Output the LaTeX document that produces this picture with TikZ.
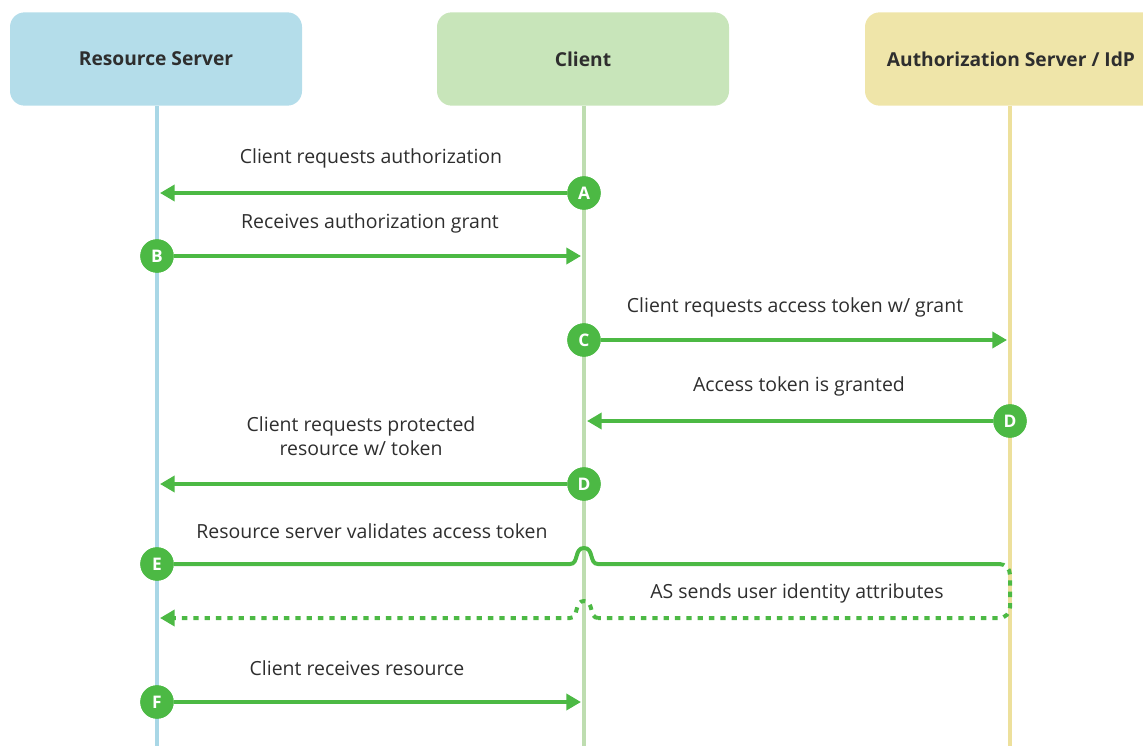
\documentclass[tikz,border=0pt]{standalone}
\usepackage{fontspec}
\setmainfont{Open Sans}
\usetikzlibrary{arrows.meta}
\definecolor{gr}{HTML}{4CB944}
\definecolor{bluebox}{HTML}{B4DDEA}
\definecolor{blueline}{HTML}{A9D7E6}
\definecolor{greenbox}{HTML}{C8E5BA}
\definecolor{greenline}{HTML}{BEDDB0}
\definecolor{yelbox}{HTML}{EFE5A9}
\definecolor{yelline}{HTML}{EDE09C}
\definecolor{txt}{HTML}{2E2E2E}
\tikzset{
  hdr/.style={rounded corners=11pt, minimum width=219pt, minimum height=70pt, inner sep=0pt, font=\fontsize{14.4}{17}\selectfont\bfseries, text=txt},
  life/.style={line width=3.6pt},
  msg/.style={draw=gr, line width=3pt, -{Triangle[length=11pt,width=12pt]}},
  plain/.style={draw=gr, line width=3pt},
  dots/.style={draw=gr, line width=3pt, dash pattern=on 4pt off 4.5pt},
  letter/.style={circle, fill=gr, minimum size=25pt, inner sep=0pt, text=white, font=\fontsize{13}{14}\selectfont\bfseries},
  lbl/.style={text=txt, font=\fontsize{14.6}{18}\selectfont, align=center}
}
\begin{document}
\begin{tikzpicture}[x=0.75pt,y=-0.75pt]
\useasboundingbox (0,0) rectangle (1143,746);
% header boxes
\node[hdr, fill=bluebox] (rs) at (156,59) {Resource Server};
\node[hdr, fill=greenbox] (cl) at (583,59) {Client};
\node[hdr, fill=yelbox] (as) at (1011,59) {Authorization Server / IdP};
% lifelines
\coordinate (rsend) at (157,746);
\coordinate (clend) at (584,746);
\coordinate (asend) at (1010,746);
\draw[life, blueline] (rs.south -| rsend) -- (rsend);
\draw[life, greenline] (cl.south -| clend) -- (clend);
\draw[life, yelline] (as.south -| asend) -- (asend);
% letter circles
\node[letter] (cA) at (584,193) {A};
\node[letter] (cB) at (157,256) {B};
\node[letter] (cC) at (584,340) {C};
\node[letter] (cD1) at (1010,421) {D};
\node[letter] (cD2) at (584,484) {D};
\node[letter] (cE) at (157,564) {E};
\node[letter] (cF) at (157,702) {F};
% arrow targets
\coordinate (tA) at (160,193);
\coordinate (tB) at (581,256);
\coordinate (tC) at (1007,340);
\coordinate (tD1) at (587,421);
\coordinate (tD2) at (160,484);
\coordinate (tE) at (999,564);
\coordinate (tEc) at (1010,564);
\coordinate (tEd) at (1010,618);
\coordinate (tG) at (160,618);
\coordinate (tF) at (581,702);
% messages
\draw[msg] (cA) -- (tA);
\draw[msg] (cB) -- (tB);
\draw[msg] (cC) -- (tC);
\draw[msg] (cD1) -- (tD1);
\draw[msg] (cD2) -- (tD2);
\draw[msg] (cF) -- (tF);
\draw[plain] (cE) -- (570,564) .. controls (579,564) and (574,548) .. (584,548) .. controls (594,548) and (589,564) .. (598,564) -- (tE);
\draw[dots, rounded corners=8pt] (tE) -- (tEc) -- (tEd) -- (598,618);
\draw[dots, -{Triangle[length=11pt,width=12pt]}] (598,618) .. controls (589,618) and (594,601) .. (584,601) .. controls (574,601) and (579,618) .. (570,618) -- (tG);
% circles on top of their lines
\foreach \n/\t in {cA/A,cB/B,cC/C,cD1/D,cD2/D,cE/E,cF/F}{\node[letter] at (\n) {\t};}
% labels
\node[lbl] (lA) at (371,158) {Client requests authorization};
\node[lbl] (lB) at (370,223) {Receives authorization grant};
\node[lbl] (lC) at (795,307) {Client requests access token w/ grant};
\node[lbl] (lD1) at (799,386) {Access token is granted};
\node[lbl] (lD2) at (361,436) {Client requests protected\\resource w/ token};
\node[lbl] (lE) at (372,531) {Resource server validates access token};
\node[lbl] (lG) at (797,593) {AS sends user identity attributes};
\node[lbl] (lF) at (357,668) {Client receives resource};
\end{tikzpicture}
\end{document}
